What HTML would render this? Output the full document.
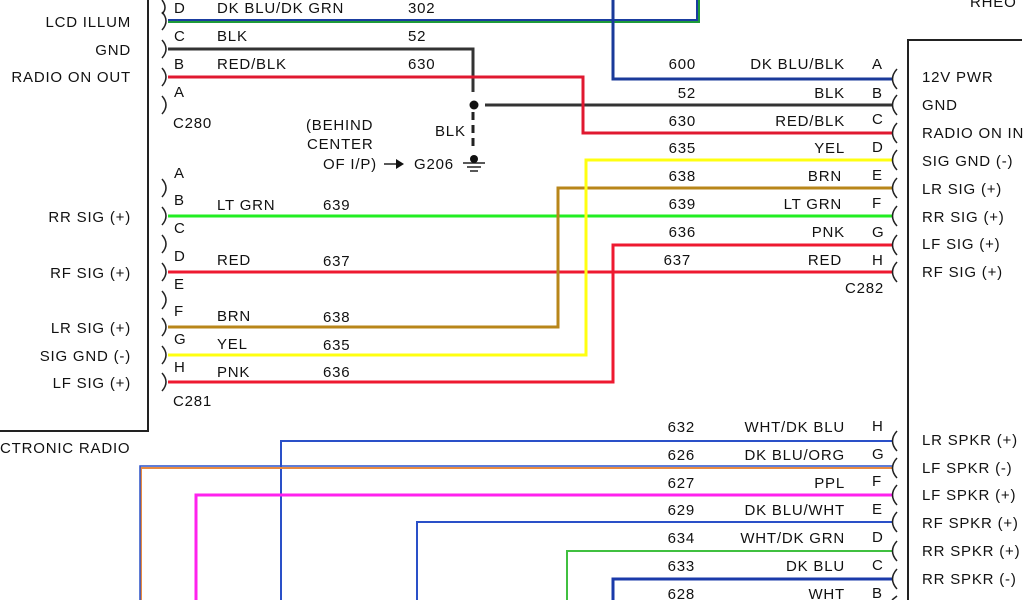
<!DOCTYPE html>
<html><head><meta charset="utf-8"><style>
html,body{margin:0;padding:0;background:#fff;width:1024px;height:600px;overflow:hidden}
svg{display:block}
text{font-family:"Liberation Sans",sans-serif;font-size:15px;letter-spacing:0.8px;fill:#111}
.r{text-anchor:end}
</style></head><body>
<svg width="1024" height="600" viewBox="0 0 1024 600" xmlns="http://www.w3.org/2000/svg">
<g fill="none" stroke-linejoin="miter">
<path d="M148 0V431H0" stroke="#222" stroke-width="2"/>
<path d="M908 600V40H1022" stroke="#222" stroke-width="2"/>
<path d="M168 20H697V0" stroke="#1a3da0" stroke-width="2"/>
<path d="M168 22H699V0" stroke="#1e9a3a" stroke-width="2"/>
<path d="M613 0V79H892" stroke="#1a3a9a" stroke-width="3"/>
<path d="M168 49H473V92" stroke="#333" stroke-width="3"/>
<path d="M485 105H892" stroke="#333" stroke-width="3"/>
<path d="M473 112V150" stroke="#222" stroke-width="3" stroke-dasharray="8,5"/>
<path d="M168 77H583V133H892" stroke="#e01830" stroke-width="3"/>
<path d="M168 216H892" stroke="#22ee22" stroke-width="3"/>
<path d="M168 272H892" stroke="#ee1a30" stroke-width="3"/>
<path d="M168 327H558V188H892" stroke="#b8861a" stroke-width="3"/>
<path d="M168 355H586V160H892" stroke="#ffff10" stroke-width="3"/>
<path d="M168 382H613V245H892" stroke="#ee1a30" stroke-width="3"/>
<path d="M281 600V441H892" stroke="#2a50c8" stroke-width="2"/>
<path d="M141 600V468H892" stroke="#e88a40" stroke-width="2"/>
<path d="M140 600V466H892" stroke="#2a50c8" stroke-width="1.5"/>
<path d="M196 600V495H892" stroke="#ff22ee" stroke-width="3"/>
<path d="M417 600V522H892" stroke="#2a50c8" stroke-width="2"/>
<path d="M567 600V551H892" stroke="#40c040" stroke-width="2"/>
<path d="M613 600V579H892" stroke="#1a3aaa" stroke-width="3"/>
<g stroke="#222" stroke-width="1.5">
<path d="M162 0Q168 8 162 14"/>
<path d="M162 12Q170 21 162 30"/>
<path d="M162 40Q170 49 162 58"/>
<path d="M162 68Q170 77 162 86"/>
<path d="M162 96Q170 105 162 114"/>
<path d="M162 179Q170 188 162 197"/>
<path d="M162 207Q170 216 162 225"/>
<path d="M162 235Q170 244 162 253"/>
<path d="M162 263Q170 272 162 281"/>
<path d="M162 291Q170 300 162 309"/>
<path d="M162 318Q170 327 162 336"/>
<path d="M162 346Q170 355 162 364"/>
<path d="M162 373Q170 382 162 391"/>
</g>
<g stroke="#222" stroke-width="1.5">
<path d="M897 69Q888 79 897 89"/>
<path d="M897 95Q888 105 897 115"/>
<path d="M897 123Q888 133 897 143"/>
<path d="M897 150Q888 160 897 170"/>
<path d="M897 178Q888 188 897 198"/>
<path d="M897 206Q888 216 897 226"/>
<path d="M897 235Q888 245 897 255"/>
<path d="M897 262Q888 272 897 282"/>
<path d="M897 431Q888 441 897 451"/>
<path d="M897 458Q888 468 897 478"/>
<path d="M897 485Q888 495 897 505"/>
<path d="M897 512Q888 522 897 532"/>
<path d="M897 541Q888 551 897 561"/>
<path d="M897 569Q888 579 897 589"/>
<path d="M897 596Q892 600 892 600"/>
</g>
<path d="M463 163H485M467 167H481M470 171H478" stroke="#222" stroke-width="1.5"/>
<path d="M384 164H400" stroke="#222" stroke-width="1.5"/>
</g>
<circle cx="474" cy="105" r="4.5" fill="#111"/>
<circle cx="474" cy="159" r="4" fill="#111"/>
<path d="M396 159L404 164L396 169Z" fill="#111"/>

<text class="r" x="131" y="27">LCD ILLUM</text>
<text class="r" x="131" y="55">GND</text>
<text class="r" x="131" y="82">RADIO ON OUT</text>
<text class="r" x="131" y="222">RR SIG (+)</text>
<text class="r" x="131" y="278">RF SIG (+)</text>
<text class="r" x="131" y="333">LR SIG (+)</text>
<text class="r" x="131" y="361">SIG GND (-)</text>
<text class="r" x="131" y="388">LF SIG (+)</text>
<text x="0" y="453">CTRONIC RADIO</text>

<text x="174" y="13">D</text><text x="217" y="13">DK BLU/DK GRN</text><text x="408" y="13">302</text>
<text x="174" y="41">C</text><text x="217" y="41">BLK</text><text x="408" y="41">52</text>
<text x="174" y="69">B</text><text x="217" y="69">RED/BLK</text><text x="408" y="69">630</text>
<text x="174" y="97">A</text>
<text x="173" y="128">C280</text>
<text x="306" y="130">(BEHIND</text>
<text x="307" y="149">CENTER</text>
<text x="323" y="169">OF I/P)</text>
<text x="414" y="169">G206</text>
<text x="435" y="136">BLK</text>

<text x="174" y="178">A</text>
<text x="174" y="205">B</text><text x="217" y="210">LT GRN</text><text x="323" y="210">639</text>
<text x="174" y="233">C</text>
<text x="174" y="261">D</text><text x="217" y="265">RED</text><text x="323" y="266">637</text>
<text x="174" y="289">E</text>
<text x="174" y="316">F</text><text x="217" y="321">BRN</text><text x="323" y="322">638</text>
<text x="174" y="344">G</text><text x="217" y="349">YEL</text><text x="323" y="350">635</text>
<text x="174" y="372">H</text><text x="217" y="377">PNK</text><text x="323" y="377">636</text>
<text x="173" y="406">C281</text>

<text class="r" x="696" y="69">600</text><text class="r" x="845" y="69">DK BLU/BLK</text><text x="872" y="69">A</text>
<text class="r" x="696" y="98">52</text><text class="r" x="845" y="98">BLK</text><text x="872" y="98">B</text>
<text class="r" x="696" y="126">630</text><text class="r" x="845" y="126">RED/BLK</text><text x="872" y="124">C</text>
<text class="r" x="696" y="153">635</text><text class="r" x="845" y="153">YEL</text><text x="872" y="152">D</text>
<text class="r" x="696" y="181">638</text><text class="r" x="842" y="181">BRN</text><text x="872" y="180">E</text>
<text class="r" x="696" y="209">639</text><text class="r" x="842" y="209">LT GRN</text><text x="872" y="208">F</text>
<text class="r" x="696" y="237">636</text><text class="r" x="845" y="237">PNK</text><text x="872" y="237">G</text>
<text class="r" x="691" y="265">637</text><text class="r" x="842" y="265">RED</text><text x="872" y="265">H</text>
<text class="r" x="884" y="293">C282</text>
<text x="922" y="82">12V PWR</text>
<text x="922" y="110">GND</text>
<text x="922" y="138">RADIO ON IN</text>
<text x="922" y="166">SIG GND (-)</text>
<text x="922" y="194">LR SIG (+)</text>
<text x="922" y="222">RR SIG (+)</text>
<text x="922" y="249">LF SIG (+)</text>
<text x="922" y="277">RF SIG (+)</text>
<text x="970" y="7">RHEO</text>

<text class="r" x="695" y="432">632</text><text class="r" x="845" y="432">WHT/DK BLU</text><text x="872" y="431">H</text>
<text class="r" x="695" y="460">626</text><text class="r" x="845" y="460">DK BLU/ORG</text><text x="872" y="459">G</text>
<text class="r" x="695" y="488">627</text><text class="r" x="845" y="488">PPL</text><text x="872" y="486">F</text>
<text class="r" x="695" y="515">629</text><text class="r" x="845" y="515">DK BLU/WHT</text><text x="872" y="514">E</text>
<text class="r" x="695" y="543">634</text><text class="r" x="845" y="543">WHT/DK GRN</text><text x="872" y="542">D</text>
<text class="r" x="695" y="571">633</text><text class="r" x="845" y="571">DK BLU</text><text x="872" y="570">C</text>
<text class="r" x="695" y="599">628</text><text class="r" x="845" y="599">WHT</text><text x="872" y="598">B</text>
<text x="922" y="445">LR SPKR (+)</text>
<text x="922" y="473">LF SPKR (-)</text>
<text x="922" y="500">LF SPKR (+)</text>
<text x="922" y="528">RF SPKR (+)</text>
<text x="922" y="556">RR SPKR (+)</text>
<text x="922" y="584">RR SPKR (-)</text>
</svg>
</body></html>
